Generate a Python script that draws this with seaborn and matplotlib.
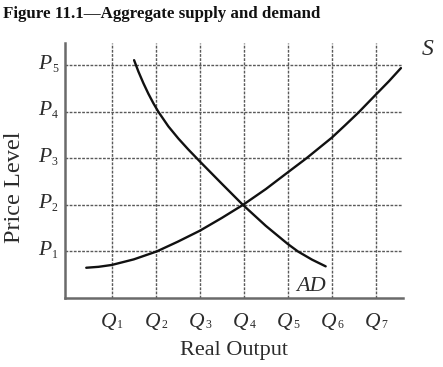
import matplotlib
matplotlib.use("Agg")
import matplotlib.pyplot as plt
import seaborn as sns
import pandas as pd

# grid positions (Q_i and P_i sit on integer steps)
q_ticks = [1, 2, 3, 4, 5, 6, 7]
q_subs = ["1", "2", "3", "4", "5", "6", "7"]
p_ticks = [1, 2, 3, 4, 5]
p_subs = ["1", "2", "3", "4", "5"]

# curves
s_x = [0.42, 0.7, 1.0, 1.5, 2.02, 2.5, 3.0, 3.5, 3.98, 4.5, 5.0, 5.42, 6.0, 6.3, 6.6, 7.0, 7.3, 7.57]
s_y = [0.65, 0.67, 0.71, 0.83, 1.0, 1.21, 1.445, 1.72, 2.0, 2.34, 2.70, 3.0, 3.445, 3.71, 3.98, 4.37, 4.66, 4.94]
ad_x = [1.507, 1.605, 1.718, 1.832, 1.945, 2.059, 2.286, 2.514, 2.74, 3.0, 3.5, 3.98,
        4.5, 5.0, 5.23, 5.55, 5.86]
ad_y = [5.11, 4.865, 4.616, 4.388, 4.185, 4.0, 3.687, 3.425, 3.19, 2.935, 2.455, 2.0,
        1.55, 1.16, 1.0, 0.824, 0.68]

sns.set_style("white")
plt.rcParams["font.family"] = ["Liberation Serif", "DejaVu Serif"]

text_col = "#2b2b2b"
fig = plt.figure(figsize=(4.43, 3.67), dpi=100)
ax = fig.add_axes([0.147, 0.188, 0.763, 0.695])

supply = pd.DataFrame({"x": s_x, "y": s_y})
demand = pd.DataFrame({"x": ad_x, "y": ad_y})

for t in q_ticks:
    ax.axvline(t, color="#5a5a5a", lw=1.0, ls=(0, (2, 1)), zorder=1)
for t in p_ticks:
    ax.axhline(t, color="#5a5a5a", lw=1.0, ls=(0, (2, 1)), zorder=1)

sns.lineplot(data=supply, x="x", y="y", color="#111111", lw=1.7, sort=False, ax=ax, zorder=3)
sns.lineplot(data=demand, x="x", y="y", color="#111111", lw=1.7, sort=False, ax=ax, zorder=3)

ax.set_xlim(-0.06, 7.62)
ax.set_ylim(0, 5.48)
ax.set_xticks([])
ax.set_yticks([])
ax.set_xlabel("")
ax.set_ylabel("")

# tick labels: italic letter with a small upright subscript
for t, sub in zip(q_ticks, q_subs):
    ax.annotate("Q", xy=(t, 0), xycoords=("data", "axes fraction"), xytext=(3, -21),
                textcoords="offset points", ha="right", va="baseline", fontsize=15.5,
                style="italic", color=text_col, annotation_clip=False)
    ax.annotate(sub, xy=(t, 0), xycoords=("data", "axes fraction"), xytext=(4, -21.5),
                textcoords="offset points", ha="left", va="baseline", fontsize=8.5,
                color=text_col, annotation_clip=False)
for t, sub in zip(p_ticks, p_subs):
    ax.annotate("P", xy=(0, t), xycoords=("axes fraction", "data"), xytext=(-10, -2.4),
                textcoords="offset points", ha="right", va="baseline", fontsize=15.5,
                style="italic", color=text_col, annotation_clip=False)
    ax.annotate(sub, xy=(0, t), xycoords=("axes fraction", "data"), xytext=(-9.6, -4.6),
                textcoords="offset points", ha="left", va="baseline", fontsize=8.5,
                color=text_col, annotation_clip=False)

sns.despine(ax=ax)
for side in ("left", "bottom"):
    ax.spines[side].set_color("#6a6a6a")
    ax.spines[side].set_linewidth(1.8)

fig.text(0.528, 0.046, "Real Output", fontsize=16, color=text_col, ha="center", va="center")
fig.text(0.032, 0.49, "Price Level", fontsize=17.5, color=text_col, rotation=90,
         ha="center", va="center")

ax.text(5.53, 0.24, "AD", fontsize=16, style="italic", color=text_col, ha="center", va="center")
fig.text(0.966, 0.865, "S", fontsize=17, style="italic", color=text_col, ha="center", va="center")
fig.text(0.007, 0.985, "Figure 11.1\u2014Aggregate supply and demand", fontsize=12.2,
         fontweight="bold", color="#111111", ha="left", va="top")

fig.savefig("out.png", dpi=100)
